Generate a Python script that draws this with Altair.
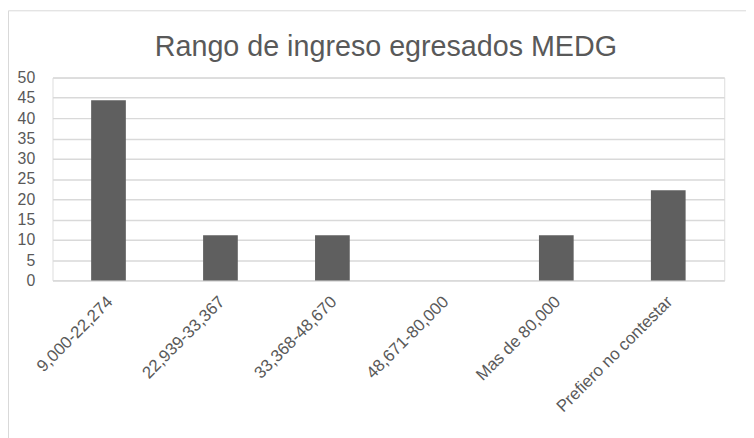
import altair as alt
import pandas as pd

title_text = "Rango de ingreso egresados MEDG"
categories = ["9,000-22,274", "22,939-33,367", "33,368-48,670", "48,671-80,000",
              "Mas de 80,000", "Prefiero no contestar"]
values = [44.44, 11.11, 11.11, 0, 11.11, 22.22]
y_ticks = [0, 5, 10, 15, 20, 25, 30, 35, 40, 45, 50]

df = pd.DataFrame({"cat": categories, "val": values})

FONT = "Liberation Sans"
TXT = "#595959"
GRID = "#d9d9d9"

bars = alt.Chart(df).mark_bar(color="#5f5f5f").encode(
    x=alt.X("cat:N", sort=categories, title=None,
            scale=alt.Scale(paddingInner=0.69, paddingOuter=0.345),
            axis=alt.Axis(labelAngle=-45, labelAlign="right", labelBaseline="top",
                          labelPadding=13, labelOffset=-4, ticks=False, domain=True,
                          domainColor=GRID, domainWidth=1.5, labelFontSize=17,
                          labelColor=TXT, labelFont=FONT, labelLimit=300)),
    y=alt.Y("val:Q", title=None,
            scale=alt.Scale(domain=[0, 50], nice=False),
            axis=alt.Axis(values=y_ticks, ticks=False, domain=False, grid=True,
                          gridColor=GRID, gridWidth=1.5, labelPadding=18,
                          labelFontSize=16, labelColor=TXT, labelFont=FONT)),
)

border = alt.Chart(alt.Data(values=[{"a": 1}])).mark_rect(
    fill="transparent", stroke=GRID, strokeWidth=1
).encode(
    x=alt.value(-44.5), x2=alt.value(760), y=alt.value(-67.5), y2=alt.value(500)
)

title = alt.Chart(alt.Data(values=[{"t": title_text}])).mark_text(
    font=FONT, fontSize=29, color=TXT, align="center", baseline="alphabetic"
).encode(
    text="t:N", x=alt.value(337), y=alt.value(-22)
)

chart = alt.layer(border, bars, title).properties(
    width=679, height=205,
    autosize=alt.AutoSizeParams(type="none"),
    padding={"left": 45, "top": 68, "right": 22, "bottom": 157},
).configure_view(stroke=None).configure(background="white")

chart.save("out.html", embed_options={"renderer": "svg", "actions": False})
